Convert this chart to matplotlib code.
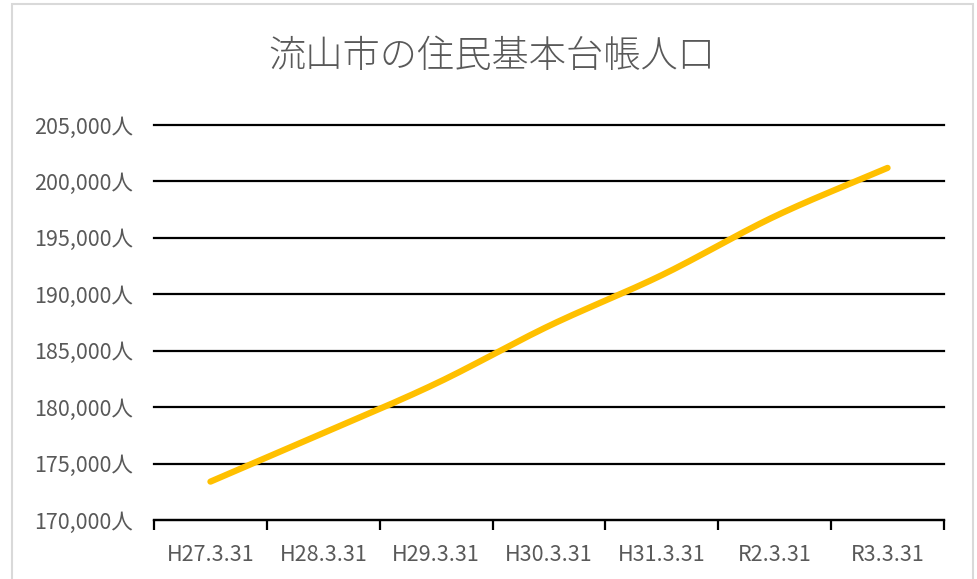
import matplotlib.pyplot as plt
import numpy as np
from matplotlib.patches import Rectangle
from matplotlib.ticker import FuncFormatter

plt.rcParams['font.family'] = ['Noto Sans CJK JP', 'DejaVu Sans']

# 住民基本台帳人口（各年3月31日現在）
labels = ['H27.3.31', 'H28.3.31', 'H29.3.31', 'H30.3.31', 'H31.3.31', 'R2.3.31', 'R3.3.31']
population = [173400, 177700, 182100, 187200, 191700, 196900, 201200]


def smooth(xs, ys, n=30):
    # Catmull-Rom で点の間を滑らかにつなぐ
    px = np.concatenate([[2 * xs[0] - xs[1]], xs, [2 * xs[-1] - xs[-2]]])
    py = np.concatenate([[2 * ys[0] - ys[1]], ys, [2 * ys[-1] - ys[-2]]])
    outx, outy = [], []
    t = np.linspace(0, 1, n)
    for i in range(1, len(px) - 2):
        for p, out in ((px, outx), (py, outy)):
            p0, p1, p2, p3 = p[i - 1], p[i], p[i + 1], p[i + 2]
            out.extend(0.5 * (2 * p1 + (-p0 + p2) * t
                              + (2 * p0 - 5 * p1 + 4 * p2 - p3) * t ** 2
                              + (-p0 + 3 * p1 - 3 * p2 + p3) * t ** 3))
    return np.array(outx), np.array(outy)


fig = plt.figure(figsize=(9.78, 5.79), dpi=100)
ax = fig.add_axes([154 / 978, 1 - 520 / 579, 790 / 978, 395 / 579])

x = np.arange(len(labels), dtype=float)
sx, sy = smooth(x, np.array(population, dtype=float))
ax.plot(sx, sy, color='#FFC000', linewidth=4.5, solid_capstyle='round', zorder=3)

ax.set_xlim(-0.5, len(labels) - 0.5)
ax.set_ylim(170000, 205000)
ax.set_yticks(np.arange(170000, 205001, 5000))
ax.yaxis.set_major_formatter(FuncFormatter(lambda v, p: f'{int(v):,}人'))
ax.yaxis.grid(True, color='black', linewidth=1.6)
for gl in ax.get_ygridlines():
    gl.set_clip_on(False)
ax.set_axisbelow(True)

ax.set_xticks(x)
ax.set_xticklabels(labels)
ax.set_xticks(np.arange(-0.5, len(labels)), minor=True)
ax.tick_params(axis='x', which='major', length=0, pad=17, labelsize=15.5, labelcolor='#595959')
ax.tick_params(axis='x', which='minor', length=7, width=1.6, color='black', direction='out')
ax.tick_params(axis='y', length=0, pad=15, labelsize=15.5, labelcolor='#595959')

for s in ('top', 'right', 'left'):
    ax.spines[s].set_visible(False)
ax.spines['bottom'].set_linewidth(1.6)
ax.spines['bottom'].set_color('black')

fig.text(492 / 978, 1 - 57 / 579, '流山市の住民基本台帳人口', ha='center', va='center',
         fontsize=26.8, color='#595959', fontweight='light')

# グラフ枠
fig.patches.append(Rectangle((12 / 978, -0.1), 961 / 978, 1.1 - 4 / 579,
                             transform=fig.transFigure, fill=False,
                             edgecolor='#d9d9d9', linewidth=1.5))

fig.savefig('out.png', dpi=100)
